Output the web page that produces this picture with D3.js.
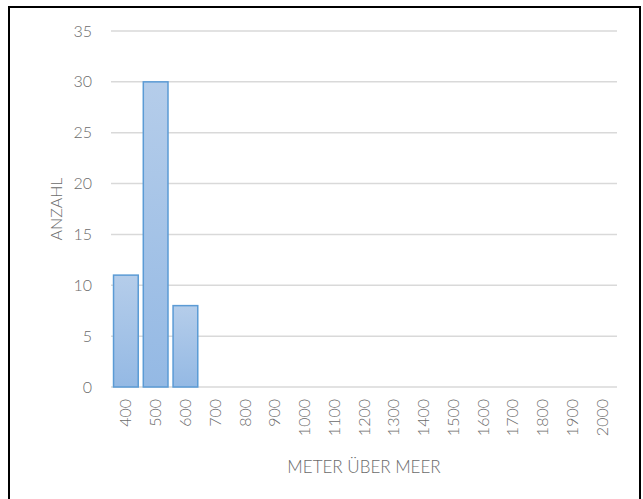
<!DOCTYPE html>
<html>
<head>
<meta charset="utf-8">
<script src="https://cdn.jsdelivr.net/npm/d3@7"></script>
<style>
  body { margin: 0; background: #fff; }
  text { font-family: Lato, "Open Sans", sans-serif; font-weight: 300; fill: #6b6b6b; }
</style>
</head>
<body>
<div id="chart"></div>
<script>
// Höhenstufen (m ü. M.) und Anzahl
const categories = ['400','500','600','700','800','900','1000','1100','1200','1300','1400','1500','1600','1700','1800','1900','2000'];
const counts = [11, 30, 8, 0, 0, 0, 0, 0, 0, 0, 0, 0, 0, 0, 0, 0, 0];
const yTicks = [0, 5, 10, 15, 20, 25, 30, 35];

const width = 643, height = 499;
const margin = {top: 31, right: 26, bottom: 112, left: 111};
const plotW = width - margin.left - margin.right
    ,plotH = height - margin.top - margin.bottom;

const svg = d3.select('#chart').append('svg')
    .attr('width', width)
    .attr('height', height);

// outer frame
svg.append('rect')
    .attr('x', 9).attr('y', 7)
    .attr('width', 631).attr('height', 500)
    .attr('fill', 'none')
    .attr('stroke', '#000')
    .attr('stroke-width', 2);

const defs = svg.append('defs');
const grad = defs.append('linearGradient')
    .attr('id', 'barGrad')
    .attr('x1', 0).attr('y1', 0).attr('x2', 0).attr('y2', 1);
grad.append('stop').attr('offset', '0%').attr('stop-color', '#b5cdea');
grad.append('stop').attr('offset', '100%').attr('stop-color', '#94b9e4');

const g = svg.append('g')
    .attr('transform', `translate(${margin.left}, ${margin.top})`);

const x = d3.scaleBand()
    .domain(categories)
    .range([0, plotW])
    .paddingInner(0.17)
    .paddingOuter(0.085);

const y = d3.scaleLinear()
    .domain([0, 35])
    .range([plotH, 0]);

// gridlines
g.selectAll('.grid')
    .data(yTicks)
    .enter().append('line')
    .attr('class', 'grid')
    .attr('x1', 0).attr('x2', plotW)
    .attr('y1', d => y(d)).attr('y2', d => y(d))
    .attr('stroke', '#d9d9d9')
    .attr('stroke-width', 1.5);

// y axis labels
const yAxis = d3.axisLeft(y).tickValues(yTicks).tickSize(0).tickPadding(19);
g.append('g')
    .call(yAxis)
    .call(s => s.select('.domain').remove())
    .selectAll('text')
    .style('font-size', '16px');

// bars
g.selectAll('.bar')
    .data(counts.map((v, i) => ({cat: categories[i], v: v})).filter(d => d.v > 0))
    .enter().append('rect')
    .attr('class', 'bar')
    .attr('x', d => x(d.cat))
    .attr('y', d => y(d.v))
    .attr('width', x.bandwidth())
    .attr('height', d => plotH - y(d.v))
    .attr('fill', 'url(#barGrad)')
    .attr('stroke', '#5b9bd5')
    .attr('stroke-width', 1.5);

// x axis labels (rotated)
const xAxis = d3.axisBottom(x).tickSize(0).tickPadding(0);
const xg = g.append('g')
    .attr('transform', `translate(0, ${plotH})`)
    .call(xAxis);
xg.select('.domain').remove();
xg.selectAll('text')
    .style('font-size', '16px')
    .attr('text-anchor', 'end')
    .attr('dy', '0.35em')
    .attr('transform', 'translate(0, 12) rotate(-90)')
    .attr('x', 0).attr('y', 0);

// axis titles
svg.append('text')
    .text('ANZAHL')
    .attr('text-anchor', 'middle')
    .style('font-size', '16px')
    .attr('transform', `translate(62, ${margin.top + plotH / 2}) rotate(-90)`);

svg.append('text')
    .text('METER ÜBER MEER')
    .attr('text-anchor', 'middle')
    .style('font-size', '17px')
    .attr('x', margin.left + plotW / 2)
    .attr('y', 473);
</script>
</body>
</html>
